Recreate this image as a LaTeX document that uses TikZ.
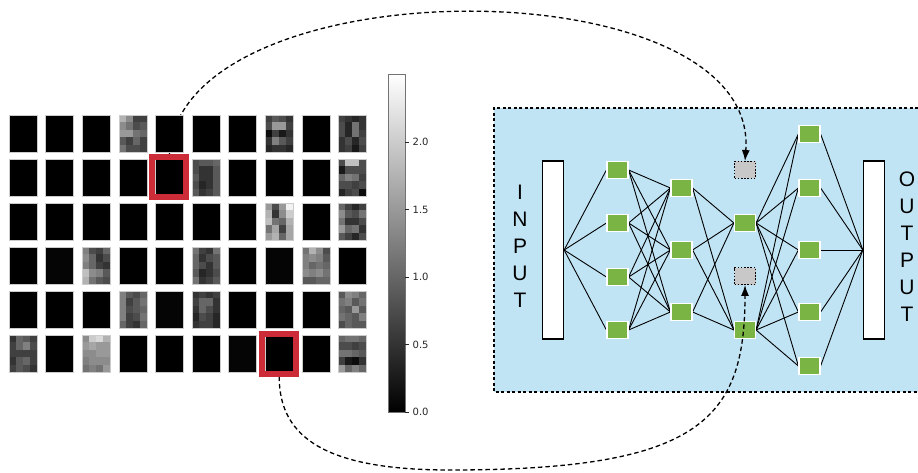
\documentclass[tikz,border=0pt]{standalone}
\usepackage{fontspec}
\newfontfamily\lbfont{Liberation Sans}
\newfontfamily\cbfont{DejaVu Sans}
\usetikzlibrary{arrows.meta}

\definecolor{panelblue}{RGB}{193,228,245}
\definecolor{unitgreen}{RGB}{122,180,68}
\definecolor{dropgrey}{RGB}{200,200,200}
\definecolor{selred}{RGB}{204,44,56}

\pgfdeclarelayer{panel}
\pgfdeclarelayer{links}
\pgfdeclarelayer{maps}
\pgfdeclarelayer{frames}
\pgfsetlayers{panel,links,main,maps,frames}

\tikzset{
  unit/.style={rectangle, fill=unitgreen, draw=white, line width=1.2pt,
    minimum width=21pt, minimum height=17pt, inner sep=0pt},
  dropped/.style={rectangle, fill=dropgrey, draw=black, line width=0.9pt,
    dash pattern=on 1.6pt off 1.6pt, minimum width=21pt, minimum height=17pt, inner sep=0pt},
  iobar/.style={rectangle, fill=white, draw=black, line width=1.3pt,
    minimum width=21pt, minimum height=178pt, inner sep=0pt},
  link/.style={line width=0.9pt},
  jump/.style={line width=1.3pt, dash pattern=on 4.5pt off 3pt,
    -{Latex[length=11pt,width=8pt]}},
  selframe/.style={rectangle, draw=selred, line width=6pt,
    minimum width=34pt, minimum height=40pt, inner sep=0pt},
  ioletters/.style={align=center, inner sep=0pt,
    font=\lbfont\fontsize{21}{27}\selectfont},
  ticklabel/.style={anchor=west, inner sep=0pt, text=black!85,
    font=\cbfont\fontsize{10}{12}\selectfont},
}

% one weight map: column, row, 20 brightness values (4 wide, 5 high)
\newcommand{\wmap}[3]{%
  \foreach \v [count=\k from 0] in {#3} {
    \pgfmathtruncatemacro\cx{mod(\k,4)}
    \pgfmathtruncatemacro\cy{floor(\k/4)}
    \fill[white!\v!black] ({9+36.6*#1+7*\cx},{115+44*#2+7.4*\cy}) rectangle ++(7.15,7.55);
  }}
\newcommand{\wflat}[3]{%
  \fill[white!#3!black] ({9+36.6*#1},{115+44*#2}) rectangle ++(28,37);}

\begin{document}
\begin{tikzpicture}[x=1pt,y=-1pt]
\useasboundingbox (0,0) rectangle (918,473);

% ---------- network panel ----------
\begin{pgfonlayer}{panel}
\fill[panelblue] (494,108) rectangle (918,392);
\draw[line width=1.3pt, dash pattern=on 3pt off 2.5pt]
  (918,108) -- (494,108) -- (494,392) -- (918,392);
\end{pgfonlayer}

\node[iobar] (inbar) at (553,250) {};
\node[iobar] (outbar) at (874,250) {};
\node[ioletters] (inlabel) at (520,246) {I\\N\\P\\U\\T};
\node[ioletters] (outlabel) at (907,247) {O\\U\\T\\P\\U\\T};

% layer 1
\node[unit] (a1) at (617.5,170) {};
\node[unit] (a2) at (617.5,223) {};
\node[unit] (a3) at (617.5,277) {};
\node[unit] (a4) at (617.5,330) {};
% layer 2
\node[unit] (b1) at (681.5,188) {};
\node[unit] (b2) at (681.5,250) {};
\node[unit] (b3) at (681.5,312) {};
% layer 3 (two units dropped)
\node[dropped] (d1) at (745,170) {};
\node[unit] (c1) at (745,223) {};
\node[dropped] (d2) at (745,276) {};
\node[unit] (c2) at (745,330) {};
% layer 4
\node[unit] (e1) at (809.5,134) {};
\node[unit] (e2) at (809.5,188) {};
\node[unit] (e3) at (809.5,250) {};
\node[unit] (e4) at (809.5,312) {};
\node[unit] (e5) at (809.5,366) {};

\begin{pgfonlayer}{links}
\foreach \a in {a1,a2,a3,a4} \draw[link] (inbar.east) -- (\a.west);
\foreach \a in {a1,a2,a3,a4} \foreach \b in {b1,b2,b3} \draw[link] (\a.east) -- (\b.west);
\foreach \b in {b1,b2,b3} \foreach \c in {c1,c2} \draw[link] (\b.east) -- (\c.west);
\foreach \c in {c1,c2} \foreach \e in {e1,e2,e3,e4,e5} \draw[link] (\c.east) -- (\e.west);
\foreach \e in {e1,e2,e3,e4,e5} \draw[link] (\e.east) -- (outbar.west);
\end{pgfonlayer}

% ---------- selected filters ----------
\begin{pgfonlayer}{frames}
\node[selframe] (sel1) at (169.4,177.5) {};
\node[selframe] (sel2) at (279.2,353.5) {};
\end{pgfonlayer}

% dashed jumps from the selected filters to the dropped units
\draw[jump] (sel1.north) .. controls (180,-36) and (760,-36) .. (d1.north);
\draw[jump] (sel2.south) .. controls (279,440) and (330,470) .. (450,470)
  .. controls (700,470) and (745,420) .. (d2.south);

% ---------- weight maps ----------
\begin{pgfonlayer}{maps}
\foreach \c in {0,...,9} \foreach \r in {0,...,5}
  \fill[black] ({9+36.6*\c},{115+44*\r}) rectangle ++(28,37);

\wmap{3}{0}{70,55,25,25, 55,45,30,35, 60,60,45,40, 35,25,40,25, 45,30,30,25}
\wmap{7}{0}{25,35,30,20, 30,60,60,25, 5,25,10,20, 20,50,35,25, 15,20,20,15}
\wmap{9}{0}{25,20,15,20, 30,15,45,20, 30,15,45,25, 20,30,15,30, 20,25,10,25}
\wmap{5}{1}{30,35,35,40, 30,20,20,35, 35,20,20,35, 30,15,20,35, 35,20,25,35}
\wmap{9}{1}{30,75,75,30, 10,30,30,30, 40,50,45,25, 30,30,25,30, 15,25,30,5}
\wmap{7}{2}{60,30,60,95, 70,20,55,80, 75,45,40,70, 45,65,25,65, 60,70,40,65}
\wmap{9}{2}{40,25,15,25, 55,35,30,45, 45,20,20,30, 60,40,45,20, 35,25,15,30}
\wflat{1}{3}{2}
\wmap{2}{3}{50,30,25,40, 55,40,20,30, 50,40,25,20, 75,55,50,35, 70,45,35,30}
\wmap{5}{3}{45,25,20,45, 40,20,30,35, 40,30,20,35, 35,15,20,30, 45,20,25,35}
\wflat{7}{3}{2}
\wmap{8}{3}{45,70,55,30, 50,55,50,35, 50,40,45,40, 55,50,55,45, 35,35,40,40}
\wmap{3}{4}{50,35,30,40, 50,25,35,45, 50,30,35,40, 50,25,30,45, 40,25,20,40}
\wflat{4}{4}{2}
\wmap{5}{4}{20,25,20,25, 25,40,40,20, 20,40,30,20, 15,30,25,15, 20,25,25,15}
\wmap{9}{4}{35,55,50,40, 45,50,35,45, 40,35,60,35, 45,40,35,50, 30,40,35,35}
\wmap{0}{5}{20,40,35,25, 25,40,50,30, 25,25,25,25, 20,35,40,25, 25,35,30,20}
\wmap{2}{5}{55,80,85,70, 60,65,60,60, 55,55,60,60, 50,55,55,55, 45,50,45,60}
\wflat{6}{5}{2}
\wmap{9}{5}{40,45,45,40, 30,30,25,30, 45,45,40,35, 25,10,5,20, 60,40,50,40}

\foreach \c in {0,...,9} \foreach \r in {0,...,5}
  \draw[black!20, line width=0.6pt] ({9+36.6*\c},{115+44*\r}) rectangle ++(28,37);
\end{pgfonlayer}

% ---------- colour bar ----------
\shade[bottom color=black, top color=white] (388,74) rectangle (405,412);
\draw[black!55, line width=0.8pt] (388,74) rectangle (405,412);
\foreach \t/\lab in {0/0.0,0.5/0.5,1/1.0,1.5/1.5,2/2.0} {
  \draw[black!85, line width=0.7pt] (405,{412-135*\t}) -- (409,{412-135*\t});
  \node[ticklabel] (tick\lab) at (412.5,{412-135*\t}) {\lab};
}
\end{tikzpicture}
\end{document}
